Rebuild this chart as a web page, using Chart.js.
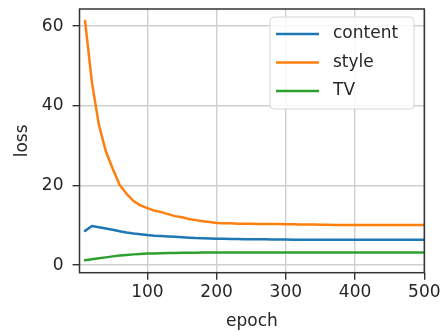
<!DOCTYPE html>
<html>
<head>
<meta charset="utf-8">
<script src="https://cdn.jsdelivr.net/npm/chart.js@4"></script>
<style>
  body { margin: 0; background: #fff; }
  #wrap { width: 442px; height: 332px; }
</style>
</head>
<body>
<div id="wrap"><canvas id="lossChart" width="442" height="332"></canvas></div>
<script>
const epochs = [10, 20, 30, 40, 50, 60, 70, 80, 90, 100,
  110, 120, 130, 140, 150, 160, 170, 180, 190, 200,
  210, 220, 230, 240, 250, 260, 270, 280, 290, 300,
  310, 320, 330, 340, 350, 360, 370, 380, 390, 400,
  410, 420, 430, 440, 450, 460, 470, 480, 490, 500];

const contentLoss = [8.6, 9.8, 9.5, 9.2, 8.9, 8.5, 8.2, 7.95, 7.75, 7.55,
  7.4, 7.3, 7.2, 7.1, 7.0, 6.9, 6.8, 6.75, 6.7, 6.6,
  6.6, 6.55, 6.55, 6.5, 6.5, 6.5, 6.5, 6.45, 6.45, 6.45,
  6.4, 6.4, 6.4, 6.4, 6.4, 6.4, 6.4, 6.4, 6.4, 6.4,
  6.4, 6.4, 6.4, 6.4, 6.4, 6.4, 6.4, 6.4, 6.4, 6.4];

const styleLoss = [61.3, 45.8, 35.2, 28.6, 24.2, 20.1, 17.9, 16.1, 15.0, 14.3,
  13.7, 13.3, 12.8, 12.3, 12.0, 11.6, 11.3, 11.0, 10.8, 10.6,
  10.5, 10.5, 10.4, 10.4, 10.4, 10.35, 10.3, 10.3, 10.3, 10.25,
  10.25, 10.2, 10.2, 10.2, 10.15, 10.15, 10.1, 10.1, 10.1, 10.1,
  10.1, 10.1, 10.1, 10.1, 10.1, 10.1, 10.1, 10.1, 10.1, 10.1];

const tvLoss = [1.2, 1.45, 1.7, 1.95, 2.2, 2.4, 2.55, 2.7, 2.8, 2.9,
  2.95, 3.0, 3.05, 3.05, 3.1, 3.1, 3.1, 3.15, 3.15, 3.15,
  3.15, 3.15, 3.15, 3.15, 3.15, 3.15, 3.15, 3.15, 3.15, 3.15,
  3.15, 3.15, 3.15, 3.15, 3.15, 3.15, 3.15, 3.15, 3.15, 3.15,
  3.15, 3.15, 3.15, 3.15, 3.15, 3.15, 3.15, 3.15, 3.15, 3.15];

const seriesNames = ['content', 'style', 'TV'];
const xTicks = [100, 200, 300, 400, 500];
const yTicks = [0, 20, 40, 60];

const FONT = 'DejaVu Sans';
const TEXT = '#262626';
const SPINE = '#333333';

const toPoints = (values) => epochs.map((e, i) => ({ x: e, y: values[i] }));

// no extra room for label overflow, the layout padding handles it
const noScalePadding = (s) => {
  s.paddingTop = 0;
  s.paddingBottom = 0;
  s.paddingLeft = 0;
  s.paddingRight = 0;
};

// top + right spines (matplotlib box)
const framePlugin = {
  id: 'frame',
  afterDraw(chart) {
    const { ctx, chartArea: a } = chart;
    ctx.save();
    ctx.strokeStyle = SPINE;
    ctx.lineWidth = 1.5;
    ctx.strokeRect(a.left, a.top, a.right - a.left, a.bottom - a.top);
    ctx.restore();
  }
};

// legend drawn inside the axes, upper right
const boxLegend = {
  id: 'boxLegend',
  afterDraw(chart) {
    const ctx = chart.ctx;
    const x = 270, y = 17, w = 144, h = 92, r = 4;
    ctx.save();
    ctx.fillStyle = 'rgba(255,255,255,0.85)';
    ctx.strokeStyle = '#d6d6d6';
    ctx.lineWidth = 1;
    ctx.beginPath();
    ctx.roundRect(x, y, w, h, r);
    ctx.fill();
    ctx.stroke();
    ctx.font = `17px "${FONT}"`;
    ctx.textBaseline = 'middle';
    ctx.fillStyle = TEXT;
    chart.data.datasets.forEach((ds, i) => {
      const rowY = 34 + i * 28.5;
      ctx.strokeStyle = ds.borderColor;
      ctx.lineWidth = 2.5;
      ctx.beginPath();
      ctx.moveTo(276, rowY);
      ctx.lineTo(319, rowY);
      ctx.stroke();
      ctx.fillText(ds.label, 333, rowY);
    });
    ctx.restore();
  }
};

new Chart(document.getElementById('lossChart'), {
  type: 'line',
  data: {
    datasets: [
      { label: seriesNames[0], data: toPoints(contentLoss), borderColor: '#1f77b4' },
      { label: seriesNames[1], data: toPoints(styleLoss), borderColor: '#ff7f0e' },
      { label: seriesNames[2], data: toPoints(tvLoss), borderColor: '#2ca02c' }
    ]
  },
  options: {
    responsive: false,
    animation: false,
    layout: { padding: { top: 9, right: 17.7, left: 0, bottom: 0 } },
    elements: {
      point: { radius: 0 },
      line: { borderWidth: 2.5, tension: 0, borderJoinStyle: 'round', borderCapStyle: 'round' }
    },
    plugins: { legend: { display: false }, tooltip: { enabled: false } },
    scales: {
      x: {
        type: 'linear',
        min: 2,
        max: 500,
        afterBuildTicks: (s) => { s.ticks = xTicks.map(v => ({ value: v })); },
        afterFit: (s) => { s.height = 59.3; noScalePadding(s); },
        grid: { color: '#cfcfcf', lineWidth: 1.4, tickColor: SPINE, tickLength: 7, tickWidth: 1.4 },
        border: { display: false },
        ticks: { color: TEXT, font: { family: FONT, size: 17 }, padding: 3, maxRotation: 0 },
        title: { display: true, text: 'epoch', color: TEXT, font: { family: FONT, size: 17 }, padding: { top: 0, bottom: 0 } }
      },
      y: {
        min: -1.9,
        max: 64.3,
        afterBuildTicks: (s) => { s.ticks = yTicks.map(v => ({ value: v })); },
        afterFit: (s) => { s.width = 79.5; noScalePadding(s); },
        grid: { color: '#cfcfcf', lineWidth: 1.4, tickColor: SPINE, tickLength: 7, tickWidth: 1.4 },
        border: { display: false },
        ticks: { color: TEXT, font: { family: FONT, size: 17 }, padding: 9 },
        title: { display: true, text: 'loss', color: TEXT, font: { family: FONT, size: 17 }, padding: { top: 12.5, bottom: 0 } }
      }
    }
  },
  plugins: [framePlugin, boxLegend]
});
</script>
</body>
</html>
